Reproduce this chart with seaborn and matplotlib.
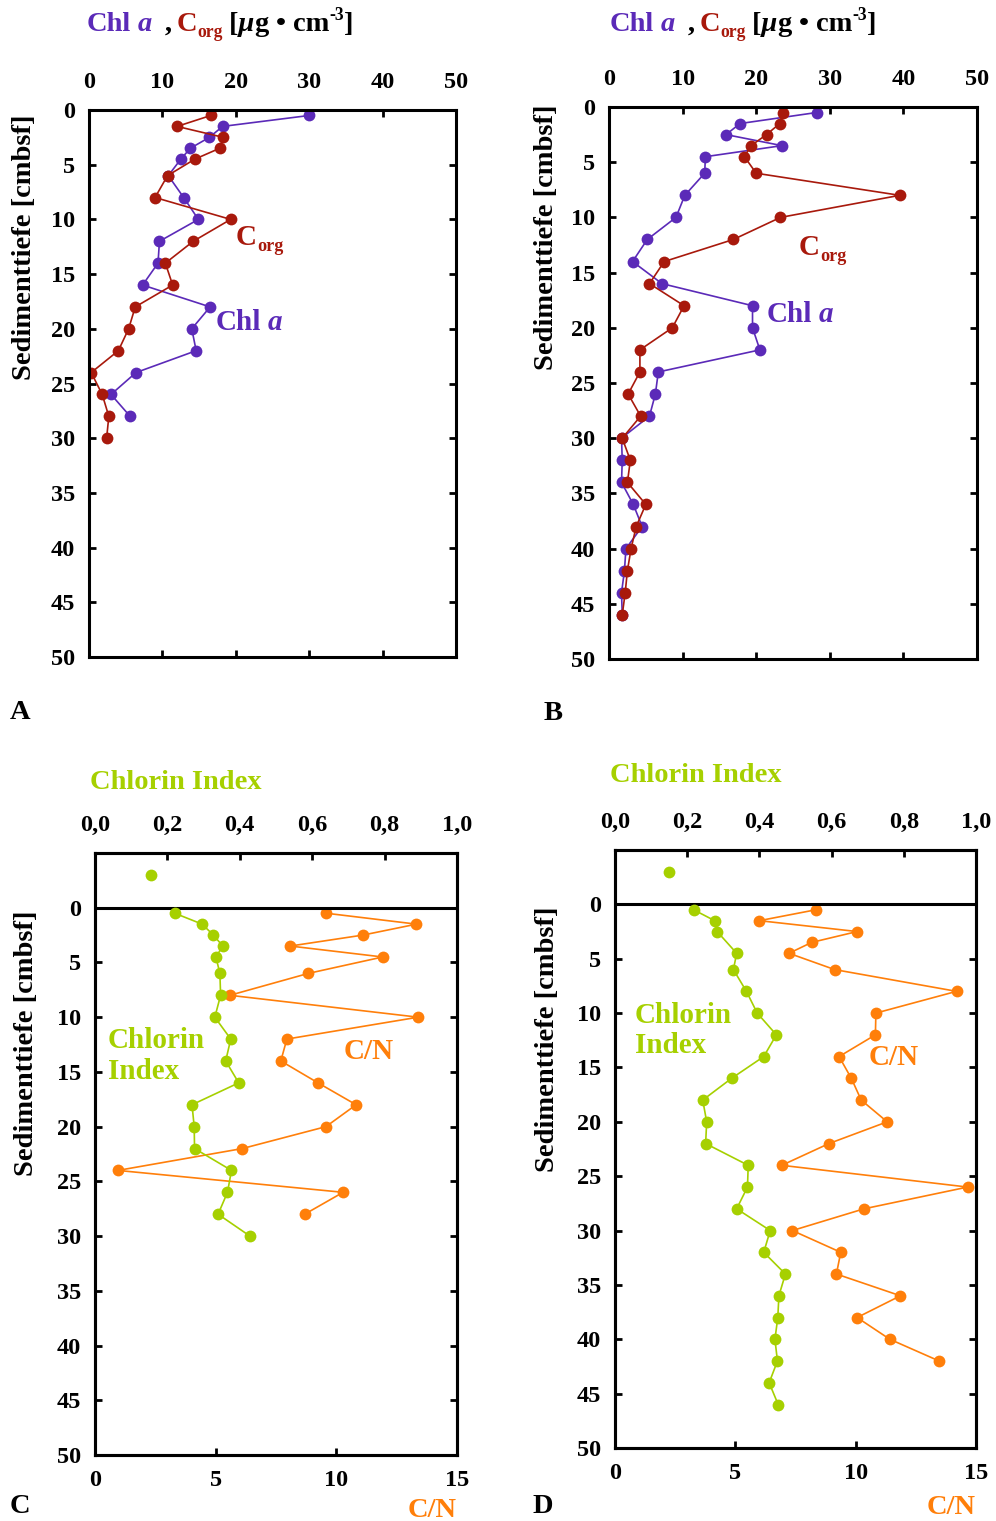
import matplotlib
matplotlib.use("Agg")
import numpy as np
import pandas as pd
import seaborn as sns
import matplotlib.pyplot as plt

# ---------------- data ----------------
# Panel A
depth_chl_A = [0.5, 1.5, 2.5, 3.5, 4.5, 6, 8, 10, 12, 14, 16, 18, 20, 22, 24, 26, 28]
chl_A = [30.0, 18.2, 16.4, 13.8, 12.5, 10.8, 12.9, 14.9, 9.6, 9.4, 7.3, 16.5, 14.0, 14.6, 6.4, 3.0, 5.6]
depth_corg_A = [0.5, 1.5, 2.5, 3.5, 4.5, 6, 8, 10, 12, 14, 16, 18, 20, 22, 24, 26, 28, 30]
corg_A = [16.6, 12.0, 18.3, 17.8, 14.4, 10.7, 9.0, 19.3, 14.2, 10.4, 11.4, 6.3, 5.4, 4.0, 0.3, 1.8, 2.7, 2.4]

# Panel B
depth_B = [0.5, 1.5, 2.5, 3.5, 4.5, 6, 8, 10, 12, 14, 16, 18, 20, 22, 24, 26, 28, 30,
           32, 34, 36, 38, 40, 42, 44, 46]
chl_B = [28.2, 17.8, 15.9, 23.5, 13.1, 13.0, 10.3, 9.1, 5.2, 3.2, 7.2, 19.5, 19.5, 20.5,
         6.7, 6.3, 5.5, 1.7, 1.8, 1.7, 3.3, 4.5, 2.3, 2.1, 1.7, 1.8]
corg_B = [23.6, 23.2, 21.4, 19.3, 18.4, 20.0, 39.5, 23.3, 16.9, 7.5, 5.5, 10.2, 8.6, 4.2,
          4.2, 2.6, 4.3, 1.8, 2.9, 2.5, 5.0, 3.7, 3.0, 2.5, 2.2, 1.8]

# Panel C
ci_top_C = [0.156]
ci_top_depth = [-3]
depth_ci_C = [0.5, 1.5, 2.5, 3.5, 4.5, 6, 8, 10, 12, 14, 16, 18, 20, 22, 24, 26, 28, 30]
ci_C = [0.220, 0.296, 0.327, 0.353, 0.334, 0.345, 0.347, 0.331, 0.375, 0.361, 0.397,
        0.268, 0.274, 0.275, 0.377, 0.366, 0.340, 0.428]
depth_cn_C = [0.5, 1.5, 2.5, 3.5, 4.5, 6, 8, 10, 12, 14, 16, 18, 20, 22, 24, 26, 28]
cn_C = [9.57, 13.32, 11.10, 8.09, 11.92, 8.84, 5.59, 13.39, 7.95, 7.70, 9.24, 10.82,
        9.57, 6.11, 0.95, 10.28, 8.69]

# Panel D
ci_top_D = [0.149]
depth_ci_D = [0.5, 1.5, 2.5, 4.5, 6, 8, 10, 12, 14, 16, 18, 20, 22, 24, 26, 28, 30,
              32, 34, 36, 38, 40, 42, 44, 46]
ci_D = [0.218, 0.276, 0.283, 0.337, 0.328, 0.364, 0.394, 0.447, 0.412, 0.323, 0.243,
        0.254, 0.251, 0.369, 0.367, 0.337, 0.430, 0.412, 0.472, 0.454, 0.451, 0.443,
        0.450, 0.427, 0.452]
depth_cn_D = [0.5, 1.5, 2.5, 3.5, 4.5, 6, 8, 10, 12, 14, 16, 18, 20, 22, 24, 26, 28,
              30, 32, 34, 36, 38, 40, 42]
cn_D = [8.34, 6.0, 10.06, 8.17, 7.23, 9.13, 14.19, 10.84, 10.82, 9.31, 9.82, 10.23,
        11.31, 8.89, 6.93, 14.65, 10.35, 7.37, 9.38, 9.2, 11.86, 10.06, 11.42, 13.47]

depth_ticks = list(range(0, 51, 5))
conc_ticks = [0, 10, 20, 30, 40, 50]
ci_ticks = [0.0, 0.2, 0.4, 0.6, 0.8, 1.0]
ci_ticklabels = ["0,0", "0,2", "0,4", "0,6", "0,8", "1,0"]
cn_ticks = [0, 5, 10, 15]

PURPLE = "#5B2AB8"
RED = "#A8190C"
GREEN = "#A6D000"
ORANGE = "#FF7F0A"

# ---------------- style ----------------
sns.set_theme(style="white")
plt.rcParams["font.family"] = ["Liberation Serif", "DejaVu Serif"]
plt.rcParams["font.weight"] = "bold"
plt.rcParams["axes.labelweight"] = "bold"

W, H = 996, 1521
fig = plt.figure(figsize=(W / 100, H / 100), dpi=100)
renderer = fig.canvas.get_renderer()

TICK = 17.5
TS = 20.5      # titles / axis names
LS = 21        # in-axes labels


def add_ax(l, r, t, b):
    return fig.add_axes([l / W, 1 - b / H, (r - l) / W, (b - t) / H])


def T(x, y, s, **kw):
    kw.setdefault("fontweight", "bold")
    return fig.text(x / W, 1 - y / H, s, **kw)


def rich(pieces, x, y_base, size):
    """pieces: (text, color, style, kind, gap_after_px)"""
    for s, color, style, kind, gap in pieces:
        fs = size
        y = y_base
        if kind == "sub":
            fs = size * 0.62
            y = y_base + size * 0.30
        elif kind == "sup":
            fs = size * 0.62
            y = y_base - size * 0.55
        t = fig.text(x / W, 1 - y / H, s, fontsize=fs, color=color, fontstyle=style,
                     fontweight="bold", ha="left", va="baseline")
        bb = t.get_window_extent(renderer)
        x += bb.width + gap
    return x


def style_ax(ax):
    for sp in ax.spines.values():
        sp.set_visible(True)
        sp.set_linewidth(2.2)
        sp.set_color("black")
    ax.grid(False)
    ax.set_xlabel("")
    ax.set_ylabel("")
    ax.tick_params(direction="in", length=5, width=2, colors="black", labelsize=TICK)
    for lab in ax.get_xticklabels() + ax.get_yticklabels():
        lab.set_fontweight("bold")


line_kw = dict(sort=False, estimator=None, marker="o", markersize=8.5,
               markeredgewidth=0, linewidth=1.2)


def conc_panel(l, r, t, b, chl_d, chl_v, corg_d, corg_v):
    ax = add_ax(l, r, t, b)
    sns.lineplot(x=chl_v, y=chl_d, ax=ax, color=PURPLE, **line_kw)
    sns.lineplot(x=corg_v, y=corg_d, ax=ax, color=RED, **line_kw)
    ax.set_xlim(0, 50)
    ax.set_ylim(50, 0)
    ax.set_xticks(conc_ticks)
    ax.set_yticks(depth_ticks)
    style_ax(ax)
    ax.tick_params(axis="x", top=True, bottom=True, labeltop=True, labelbottom=False, pad=12)
    ax.tick_params(axis="y", left=True, right=True, pad=10)
    return ax


def ci_panel(l, r, t, b, ci_d, ci_v, ci_top, cn_d, cn_v):
    ax = add_ax(l, r, t, b)
    sns.lineplot(x=cn_v, y=cn_d, ax=ax, color=ORANGE, **line_kw)
    ax.set_xlim(0, 15)
    ax.set_ylim(50, -5)
    ax.set_xticks(cn_ticks)
    ax.set_yticks(depth_ticks)
    ax.axhline(0, color="black", linewidth=2.2, zorder=5)
    style_ax(ax)
    ax.tick_params(axis="x", top=False, bottom=True, labelbottom=True, labeltop=False, pad=11)
    ax.tick_params(axis="y", left=True, right=True, pad=10)
    ax2 = ax.twiny()
    sns.lineplot(x=ci_v, y=ci_d, ax=ax2, color=GREEN, **line_kw)
    sns.scatterplot(x=ci_top, y=ci_top_depth, ax=ax2, color=GREEN, s=72, linewidth=0)
    ax2.set_xlim(0, 1)
    ax2.set_ylim(50, -5)
    ax2.set_xticks(ci_ticks)
    ax2.set_xticklabels(ci_ticklabels)
    style_ax(ax2)
    ax2.tick_params(axis="x", top=True, bottom=False, labeltop=True, labelbottom=False, pad=12)
    return ax, ax2


axA = conc_panel(89, 456, 110, 657, depth_chl_A, chl_A, depth_corg_A, corg_A)
axB = conc_panel(609, 977, 107, 659, depth_B, chl_B, depth_B, corg_B)
axC, axC2 = ci_panel(95, 457, 853, 1455, depth_ci_C, ci_C, ci_top_C, depth_cn_C, cn_C)
axD, axD2 = ci_panel(615, 976, 850, 1448, depth_ci_D, ci_D, ci_top_D, depth_cn_D, cn_D)

# ---------------- texts ----------------


def title_conc(x, yb):
    rich([("Chl", PURPLE, "normal", "", 6),
          ("a", PURPLE, "italic", "", 13),
          (",", "black", "normal", "", 5),
          ("C", RED, "normal", "", 0),
          ("org", RED, "normal", "sub", 6),
          ("[", "black", "normal", "", 0),
          ("\u00b5", "black", "italic", "", 0),
          ("g", "black", "normal", "", 7),
          ("\u2022", "black", "normal", "", 7),
          ("cm", "black", "normal", "", 0),
          ("-3", "black", "normal", "sup", 0),
          ("]", "black", "normal", "", 0)], x, yb, TS)


title_conc(87, 31)
title_conc(610, 31)

# in-axes labels
rich([("C", RED, "normal", "", 0), ("org", RED, "normal", "sub", 0)], 236, 245, LS)
rich([("Chl", PURPLE, "normal", "", 6), ("a", PURPLE, "italic", "", 0)], 216, 330, LS)
rich([("C", RED, "normal", "", 0), ("org", RED, "normal", "sub", 0)], 799, 255, LS)
rich([("Chl", PURPLE, "normal", "", 6), ("a", PURPLE, "italic", "", 0)], 767, 322, LS)

# y labels
for x, yt in [(25, 114), (546, 104), (27, 911), (548, 907)]:
    T(x, yt, "Sedimenttiefe [cmbsf]", rotation=90, ha="center", va="top", fontsize=TS,
      color="black")

# Chlorin index titles
T(90, 789, "Chlorin Index", color=GREEN, fontsize=TS, ha="left", va="baseline")
T(610, 782, "Chlorin Index", color=GREEN, fontsize=TS, ha="left", va="baseline")

# in-axes CI labels
T(108, 1048, "Chlorin", color=GREEN, fontsize=LS, ha="left", va="baseline")
T(108, 1079, "Index", color=GREEN, fontsize=LS, ha="left", va="baseline")
T(344, 1059, "C/N", color=ORANGE, fontsize=LS, ha="left", va="baseline")
T(635, 1023, "Chlorin", color=GREEN, fontsize=LS, ha="left", va="baseline")
T(635, 1053, "Index", color=GREEN, fontsize=LS, ha="left", va="baseline")
T(869, 1065, "C/N", color=ORANGE, fontsize=LS, ha="left", va="baseline")

# C/N axis names
T(432, 1517, "C/N", color=ORANGE, fontsize=TS, ha="center", va="baseline")
T(951, 1514, "C/N", color=ORANGE, fontsize=TS, ha="center", va="baseline")

# panel letters
for x, yb, s in [(20, 719, "A"), (553, 720, "B"), (20, 1513, "C"), (543, 1513, "D")]:
    T(x, yb, s, color="black", fontsize=TS, ha="center", va="baseline")

fig.savefig("out.png", dpi=100)
